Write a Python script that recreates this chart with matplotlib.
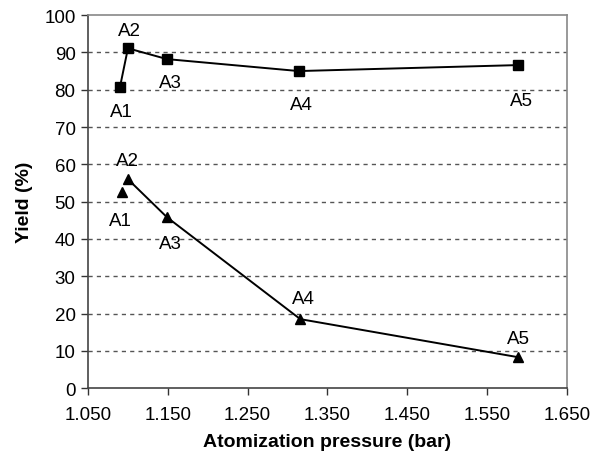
import matplotlib
matplotlib.use('Agg')
import matplotlib.pyplot as plt

plt.rcParams['font.family'] = ['Liberation Sans', 'DejaVu Sans']

# data
labels = ['A1', 'A2', 'A3', 'A4', 'A5']
pressure_sq = [1.090, 1.100, 1.149, 1.314, 1.589]
yield_sq = [80.7, 91.1, 88.2, 85.0, 86.6]
pressure_tri = [1.093, 1.100, 1.149, 1.316, 1.589]
yield_tri = [52.5, 56.0, 45.8, 18.5, 8.3]

x_ticks = [1.05, 1.15, 1.25, 1.35, 1.45, 1.55, 1.65]
y_ticks = list(range(0, 101, 10))

# label offsets in pixels (dx, dy)
off_sq = [(1, -24), (2, 18), (3, -23), (3, -33), (3, -35)]
off_tri = [(-2, -28), (0, 19), (3, -26), (3, 21), (0, 19)]

fig = plt.figure(figsize=(6.03, 4.60), dpi=100)
ax = fig.add_axes([0.146, 0.154, 0.794, 0.811])

# squares: all points joined
ax.plot(pressure_sq, yield_sq, color='black', lw=1.4, marker='s', ms=6.5, zorder=3)
# triangles: A1 standalone, line from A2 on
ax.plot(pressure_tri[1:], yield_tri[1:], color='black', lw=1.4, marker='^', ms=7, zorder=3)
ax.plot(pressure_tri[:1], yield_tri[:1], color='black', ls='none', marker='^', ms=7, zorder=3)

for lab, x, y, (dx, dy) in zip(labels, pressure_sq, yield_sq, off_sq):
    ax.annotate(lab, (x, y), xytext=(dx, dy), textcoords='offset pixels',
                ha='center', va='center', fontsize=13.5)
for lab, x, y, (dx, dy) in zip(labels, pressure_tri, yield_tri, off_tri):
    ax.annotate(lab, (x, y), xytext=(dx, dy), textcoords='offset pixels',
                ha='center', va='center', fontsize=13.5)

ax.set_xlim(1.05, 1.65)
ax.set_ylim(0, 100)
ax.set_xticks(x_ticks)
ax.set_xticklabels([f'{t:.3f}' for t in x_ticks])
ax.set_yticks(y_ticks)
ax.tick_params(direction='out', length=5, width=1, color='#333333',
               labelsize=13.5, pad=4)
ax.tick_params(axis='x', pad=8)

for y in y_ticks[1:-1]:
    ax.axhline(y, color='#555555', lw=1, ls=(0, (3, 3)), zorder=1)

for side in ['left', 'bottom']:
    ax.spines[side].set_color('#444444')
for side in ['top', 'right']:
    ax.spines[side].set_color('#888888')
for sp in ax.spines.values():
    sp.set_linewidth(1.2)

ax.set_xlabel('Atomization pressure (bar)', fontsize=14, fontweight='bold', labelpad=7)
ax.set_ylabel('Yield (%)', fontsize=14, fontweight='bold', labelpad=8)

fig.savefig('out.png', dpi=100)
